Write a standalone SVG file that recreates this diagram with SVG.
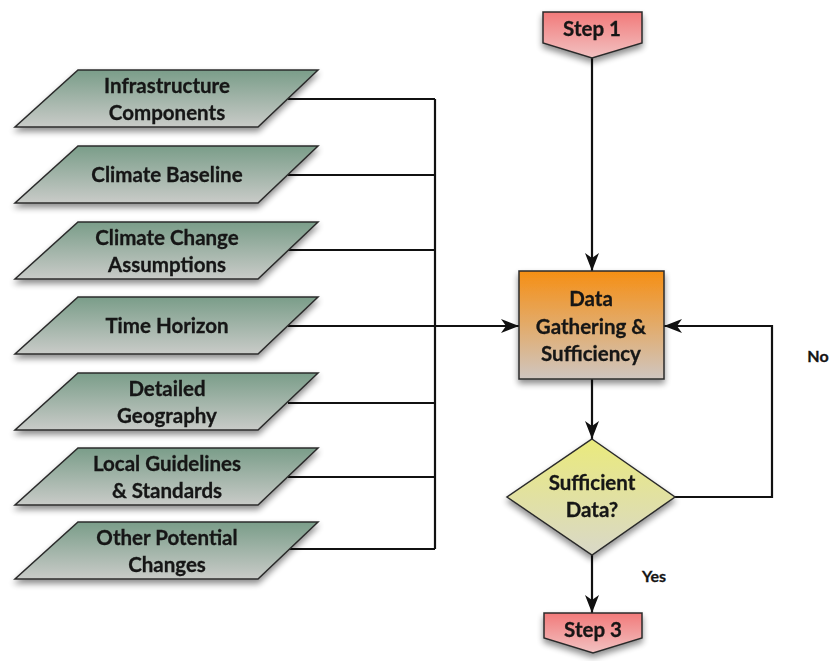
<svg xmlns="http://www.w3.org/2000/svg" width="833" height="661" viewBox="0 0 833 661">
<defs>
<linearGradient id="gPar" x1="0" y1="0" x2="0" y2="1"><stop offset="0" stop-color="#7a9d89"/><stop offset="1" stop-color="#c9cbc8"/></linearGradient>
<linearGradient id="gBox" x1="0" y1="0" x2="0" y2="1"><stop offset="0" stop-color="#f68f14"/><stop offset="1" stop-color="#cfc6c0"/></linearGradient>
<linearGradient id="gDia" x1="0" y1="0" x2="0" y2="1"><stop offset="0" stop-color="#eaea7c"/><stop offset="1" stop-color="#d9d8c8"/></linearGradient>
<linearGradient id="gStep" x1="0" y1="0" x2="0" y2="1"><stop offset="0" stop-color="#f27a7a"/><stop offset="1" stop-color="#f2c2c2"/></linearGradient>
<filter id="sh" x="-20%" y="-20%" width="140%" height="160%"><feGaussianBlur in="SourceAlpha" stdDeviation="3"/><feOffset dx="0" dy="4" result="b"/><feComponentTransfer><feFuncA type="linear" slope="0.45"/></feComponentTransfer><feMerge><feMergeNode/><feMergeNode in="SourceGraphic"/></feMerge></filter>
<marker id="arr" viewBox="0 0 18 14" refX="18" refY="7" markerWidth="18" markerHeight="14" markerUnits="userSpaceOnUse" orient="auto"><path d="M0,0 L18,7 L0,14 L5,7 z" fill="#111"/></marker>
</defs>
<style>
.par{fill:url(#gPar);stroke:#2b2b2b;stroke-width:1.5}
.t{font-family:Lato,"Open Sans","Liberation Sans",sans-serif;font-weight:bold;font-size:20.5px;fill:#151515;text-anchor:middle;stroke:#151515;stroke-width:0.3}
.lb{font-size:16px}
.ln{fill:none;stroke:#111;stroke-width:2.2}
</style>
<g id="connectors">
<path class="ln" d="M288,99 H435 M288,175 H435 M288,250 H435 M288,403 H435 M288,477 H435 M288,549 H435 M435,99 V549"/>
<path class="ln" d="M288,326 H519" marker-end="url(#arr)"/>
<path class="ln" d="M592,58 V271" marker-end="url(#arr)"/>
<path class="ln" d="M592,379 V439" marker-end="url(#arr)"/>
<path class="ln" d="M675,497 H772 V326 H664" marker-end="url(#arr)"/>
<path class="ln" d="M592,555 V613" marker-end="url(#arr)"/>
<text class="t lb" x="818" y="362">No</text>
<text class="t lb" x="654" y="582">Yes</text>
</g>
<g id="n1" filter="url(#sh)"><path class="par" d="M78,70 H318 L258,127 H15 Z"/><text class="t" x="167" y="93">Infrastructure</text><text class="t" x="167" y="120">Components</text></g>
<g id="n2" filter="url(#sh)"><path class="par" d="M78,146 H318 L258,203 H15 Z"/><text class="t" x="167" y="182">Climate Baseline</text></g>
<g id="n3" filter="url(#sh)"><path class="par" d="M78,222 H318 L258,279 H15 Z"/><text class="t" x="167" y="245">Climate Change</text><text class="t" x="167" y="272">Assumptions</text></g>
<g id="n4" filter="url(#sh)"><path class="par" d="M78,297 H318 L258,354 H15 Z"/><text class="t" x="167" y="333">Time Horizon</text></g>
<g id="n5" filter="url(#sh)"><path class="par" d="M78,373 H318 L258,430 H15 Z"/><text class="t" x="167" y="396">Detailed</text><text class="t" x="167" y="423">Geography</text></g>
<g id="n6" filter="url(#sh)"><path class="par" d="M78,448 H318 L258,505 H15 Z"/><text class="t" x="167" y="471">Local Guidelines</text><text class="t" x="167" y="498">&amp; Standards</text></g>
<g id="n7" filter="url(#sh)"><path class="par" d="M78,522 H318 L258,579 H15 Z"/><text class="t" x="167" y="545">Other Potential</text><text class="t" x="167" y="572">Changes</text></g>
<g id="step1" filter="url(#sh)"><path d="M543,12 H642 V43 L592,58 L543,43 Z" fill="url(#gStep)" stroke="#2b2b2b" stroke-width="1.5"/><text class="t" x="592" y="36">Step 1</text></g>
<g id="data" filter="url(#sh)"><rect x="519" y="271" width="145" height="108" fill="url(#gBox)" stroke="#2b2b2b" stroke-width="1.5"/><text class="t" x="591" y="306">Data</text><text class="t" x="591" y="334">Gathering &amp;</text><text class="t" x="591" y="361">Sufficiency</text></g>
<g id="decision" filter="url(#sh)"><path d="M592,439 L675,497 L592,555 L507,497 Z" fill="url(#gDia)" stroke="#2b2b2b" stroke-width="1.5"/><text class="t" x="592" y="490">Sufficient</text><text class="t" x="592" y="517">Data?</text></g>
<g id="step3" filter="url(#sh)"><path d="M544,613 H642 V638 L593,653 L544,638 Z" fill="url(#gStep)" stroke="#2b2b2b" stroke-width="1.5"/><text class="t" x="593" y="637">Step 3</text></g>
</svg>
